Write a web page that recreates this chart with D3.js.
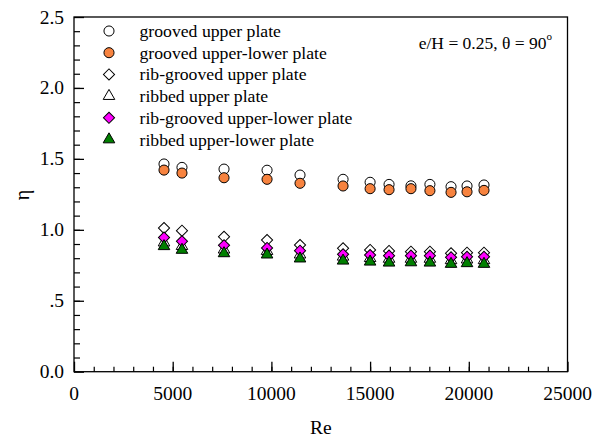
<!DOCTYPE html>
<html>
<head>
<meta charset="utf-8">
<script src="https://cdn.jsdelivr.net/npm/d3@7"></script>
<style>
  body { margin: 0; background: #fff; }
  text { font-family: "Liberation Serif", "Times New Roman", serif; fill: #000; }
</style>
</head>
<body>
<script>
// Re values (x)
var re = [4560, 5470, 7600, 9780, 11450, 13630, 15000, 15960, 17070, 18030, 19100, 19910, 20770];

// efficiency eta for each case
var groovedUpper         = [1.464, 1.440, 1.428, 1.420, 1.386, 1.356, 1.335, 1.320, 1.310, 1.320, 1.304, 1.309, 1.316];
var groovedUpperLower    = [1.421, 1.400, 1.367, 1.356, 1.328, 1.309, 1.290, 1.283, 1.290, 1.276, 1.264, 1.268, 1.278];
var ribGroovedUpper      = [1.012, 0.994, 0.951, 0.928, 0.893, 0.870, 0.858, 0.851, 0.846, 0.846, 0.834, 0.839, 0.839];
var ribbedUpper          = [0.910, 0.885, 0.860, 0.850, 0.825, 0.810, 0.800, 0.795, 0.795, 0.795, 0.785, 0.790, 0.785];
var ribGroovedUpperLower = [0.945, 0.919, 0.891, 0.872, 0.853, 0.827, 0.822, 0.818, 0.818, 0.818, 0.806, 0.810, 0.810];
var ribbedUpperLower     = [0.884, 0.858, 0.834, 0.825, 0.797, 0.782, 0.775, 0.768, 0.770, 0.768, 0.759, 0.764, 0.759];

var seriesNames = ["grooved upper plate", "grooved upper-lower plate", "rib-grooved upper plate",
                   "ribbed upper plate", "rib-grooved upper-lower plate", "ribbed upper-lower plate"];

var xTicks = [0, 5000, 10000, 15000, 20000, 25000];
var yTicks = [0, 0.5, 1.0, 1.5, 2.0, 2.5];
var yTickLabels = ["0.0", ".5", "1.0", "1.5", "2.0", "2.5"];

var series = [
  { name: seriesNames[0], values: groovedUpper,         shape: "circle",   fill: "#fff" },
  { name: seriesNames[1], values: groovedUpperLower,    shape: "circle",   fill: "#f7833f" },
  { name: seriesNames[2], values: ribGroovedUpper,      shape: "diamond",  fill: "#fff" },
  { name: seriesNames[3], values: ribbedUpper,          shape: "triangle", fill: "#fff" },
  { name: seriesNames[4], values: ribGroovedUpperLower, shape: "diamond",  fill: "#ff00ff" },
  { name: seriesNames[5], values: ribbedUpperLower,     shape: "triangle", fill: "#007f00" }
];

var W = 603, H = 436;
var margin = { top: 17, right: 35.5, bottom: 64.3, left: 74 };
var w = W - margin.left - margin.right;
var h = H - margin.top - margin.bottom;

var svg = d3.select("body").append("svg")
    .attr("width", W)
    .attr("height", H);

var g = svg.append("g")
    .attr("transform", "translate(" + margin.left + "," + margin.top + ")");

var xScale = d3.scaleLinear().domain([0, 25000]).range([0, w]);
var yScale = d3.scaleLinear().domain([0, 2.5]).range([h, 0]);

// frame
g.append("rect")
    .attr("width", w).attr("height", h)
    .attr("fill", "none").attr("stroke", "#000").attr("stroke-width", 1.3);

// minor ticks
g.append("g")
    .attr("transform", "translate(0," + h + ")")
    .call(d3.axisTop(xScale).tickValues(d3.range(1000, 25000, 1000)).tickSize(5).tickFormat(""))
    .call(function(a) { a.select(".domain").remove(); a.selectAll("line").attr("stroke-width", 1.2); });
g.append("g")
    .call(d3.axisRight(yScale).tickValues(d3.range(0.1, 2.5, 0.1)).tickSize(6).tickFormat(""))
    .call(function(a) { a.select(".domain").remove(); a.selectAll("line").attr("stroke-width", 1.2); });

// major ticks
var xAxis = g.append("g")
    .attr("transform", "translate(0," + h + ")")
    .call(d3.axisTop(xScale).tickValues(xTicks).tickSize(10).tickFormat(""));
xAxis.select(".domain").remove();
xAxis.selectAll("line").attr("stroke-width", 1.3);

var yAxis = g.append("g")
    .call(d3.axisRight(yScale).tickValues(yTicks).tickSize(10).tickFormat(""));
yAxis.select(".domain").remove();
yAxis.selectAll("line").attr("stroke-width", 1.3);

// tick labels
g.selectAll(".xlab").data(xTicks).enter().append("text")
    .attr("class", "xlab")
    .attr("x", function(d) { return xScale(d); })
    .attr("y", h + 22)
    .attr("text-anchor", "middle")
    .attr("dominant-baseline", "central")
    .style("font-size", "19.5px")
    .text(function(d) { return d; });

g.selectAll(".ylab").data(yTicks).enter().append("text")
    .attr("class", "ylab")
    .attr("x", -10)
    .attr("y", function(d) { return yScale(d); })
    .attr("text-anchor", "end")
    .attr("dominant-baseline", "central")
    .style("font-size", "19.5px")
    .text(function(d, i) { return yTickLabels[i]; });

// axis titles
svg.append("text")
    .attr("x", margin.left + w / 2)
    .attr("y", 427)
    .attr("text-anchor", "middle")
    .attr("dominant-baseline", "central")
    .style("font-size", "19.5px")
    .text("Re");

svg.append("text")
    .attr("transform", "translate(22,195)rotate(-90)")
    .attr("text-anchor", "middle")
    .attr("dominant-baseline", "central")
    .style("font-size", "20px")
    .text("η");

function symbolFor(shape) {
  if (shape === "circle") return d3.symbol().type(d3.symbolCircle).size(80)();
  if (shape === "diamond") return d3.symbol().type(d3.symbolSquare).size(62)();
  return d3.symbol().type(d3.symbolTriangle).size(58)();
}
function rot(shape) { return shape === "diamond" ? "rotate(45)" : ""; }

// data points
series.forEach(function(s) {
  g.selectAll(null).data(s.values).enter().append("path")
      .attr("d", symbolFor(s.shape))
      .attr("transform", function(d, i) {
        return "translate(" + xScale(re[i]) + "," + yScale(d) + ")" + rot(s.shape);
      })
      .attr("fill", s.fill)
      .attr("stroke", "#000")
      .attr("stroke-width", 1);
});

// legend
var legend = svg.append("g");
series.forEach(function(s, i) {
  var y = 31 + i * 21.7;
  legend.append("path")
      .attr("d", symbolFor(s.shape))
      .attr("transform", "translate(109," + y + ")" + rot(s.shape))
      .attr("fill", s.fill)
      .attr("stroke", "#000")
      .attr("stroke-width", 1);
  legend.append("text")
      .attr("x", 139.5)
      .attr("y", y)
      .attr("dominant-baseline", "central")
      .style("font-size", "17.7px")
      .text(s.name);
});

// annotation
var ann = svg.append("text")
    .attr("x", 552)
    .attr("y", 43)
    .attr("text-anchor", "end")
    .attr("dominant-baseline", "central")
    .style("font-size", "17.5px");
ann.append("tspan").text("e/H = 0.25, θ = 90");
ann.append("tspan").attr("dy", -7).style("font-size", "11px").text("o");
</script>
</body>
</html>
